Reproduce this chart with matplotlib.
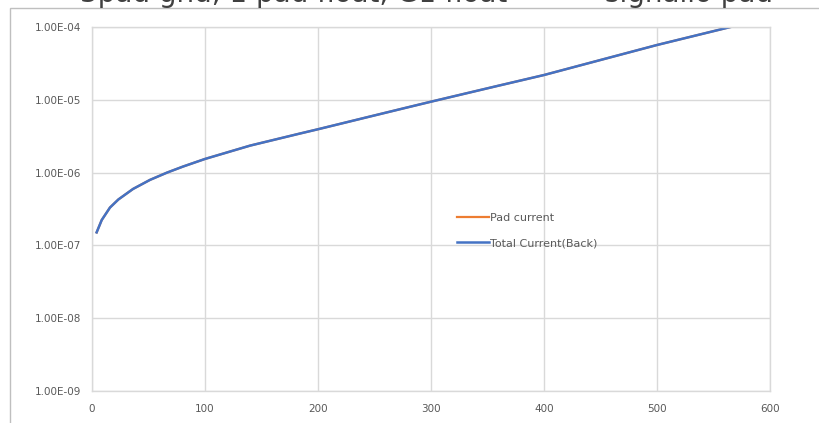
import matplotlib
matplotlib.use("Agg")
import matplotlib.pyplot as plt
from matplotlib.ticker import FixedLocator, FuncFormatter, NullLocator
from matplotlib.patches import Rectangle

# Voltage sweep points and measured currents (A)
voltage = [4.1, 8.6, 15.9, 23.3, 36.3, 51.3, 66.4, 80.5, 100, 140, 184, 200,
           243, 278.5, 300, 358, 400, 452, 500, 535, 565]
total_current = [1.51e-7, 2.23e-7, 3.31e-7, 4.27e-7, 5.96e-7, 7.94e-7, 1.0e-6,
                 1.21e-6, 1.54e-6, 2.35e-6, 3.44e-6, 3.94e-6, 5.74e-6, 7.82e-6,
                 9.42e-6, 1.54e-5, 2.19e-5, 3.59e-5, 5.66e-5, 7.69e-5, 1.0e-4]
pad_current = list(total_current)

y_ticks = [1e-9, 1e-8, 1e-7, 1e-6, 1e-5, 1e-4]
x_ticks = [0, 100, 200, 300, 400, 500, 600]

W, H = 820, 423
fig = plt.figure(figsize=(W / 100, H / 100), dpi=100)
ax = fig.add_axes([92 / W, 1 - 391 / H, (770 - 92) / W, (391 - 27) / H])

ax.plot(voltage, pad_current, color="#ED7D31", lw=1.6, label="Pad current")
ax.plot(voltage, total_current, color="#4472C4", lw=1.8, label="Total Current(Back)")

ax.set_yscale("log")
ax.set_ylim(1e-9, 1e-4)
ax.set_xlim(0, 600)
ax.yaxis.set_major_locator(FixedLocator(y_ticks))
ax.yaxis.set_minor_locator(NullLocator())
ax.yaxis.set_major_formatter(FuncFormatter(lambda v, p: f"{v:.2E}"))
ax.xaxis.set_major_locator(FixedLocator(x_ticks))

grid_c = "#d9d9d9"
ax.grid(True, color=grid_c, lw=1.0)
ax.set_axisbelow(True)
for s in ax.spines.values():
    s.set_color(grid_c)
    s.set_linewidth(1.0)
ax.tick_params(length=0, colors="#595959", labelsize=7.5)
ax.tick_params(axis="y", pad=8)
ax.tick_params(axis="x", pad=9)

leg = ax.legend(loc="upper left", bbox_to_anchor=(451 / W, 1 - 207 / H),
                bbox_transform=fig.transFigure, frameon=False,
                fontsize=8, handlelength=2.9, handletextpad=0.1,
                labelspacing=1.4, borderpad=0)
for t in leg.get_texts():
    t.set_color("#595959")

# Chart border
fig.patches.append(Rectangle((10 / W, -0.2), 1.2, 1.2 - 8 / H,
                             transform=fig.transFigure, fill=False,
                             edgecolor="#bfbfbf", lw=1.0))

# Title line
fig.text(80 / W, 1 - 1.5 / H, "3pad gnd, 1 pad float, G1 float",
         fontsize=20, color="#404040", va="baseline", ha="left")
fig.text(605 / W, 1 - 1.5 / H, "signalio pad",
         fontsize=20, color="#404040", va="baseline", ha="left")

fig.savefig("out.png", dpi=100)
